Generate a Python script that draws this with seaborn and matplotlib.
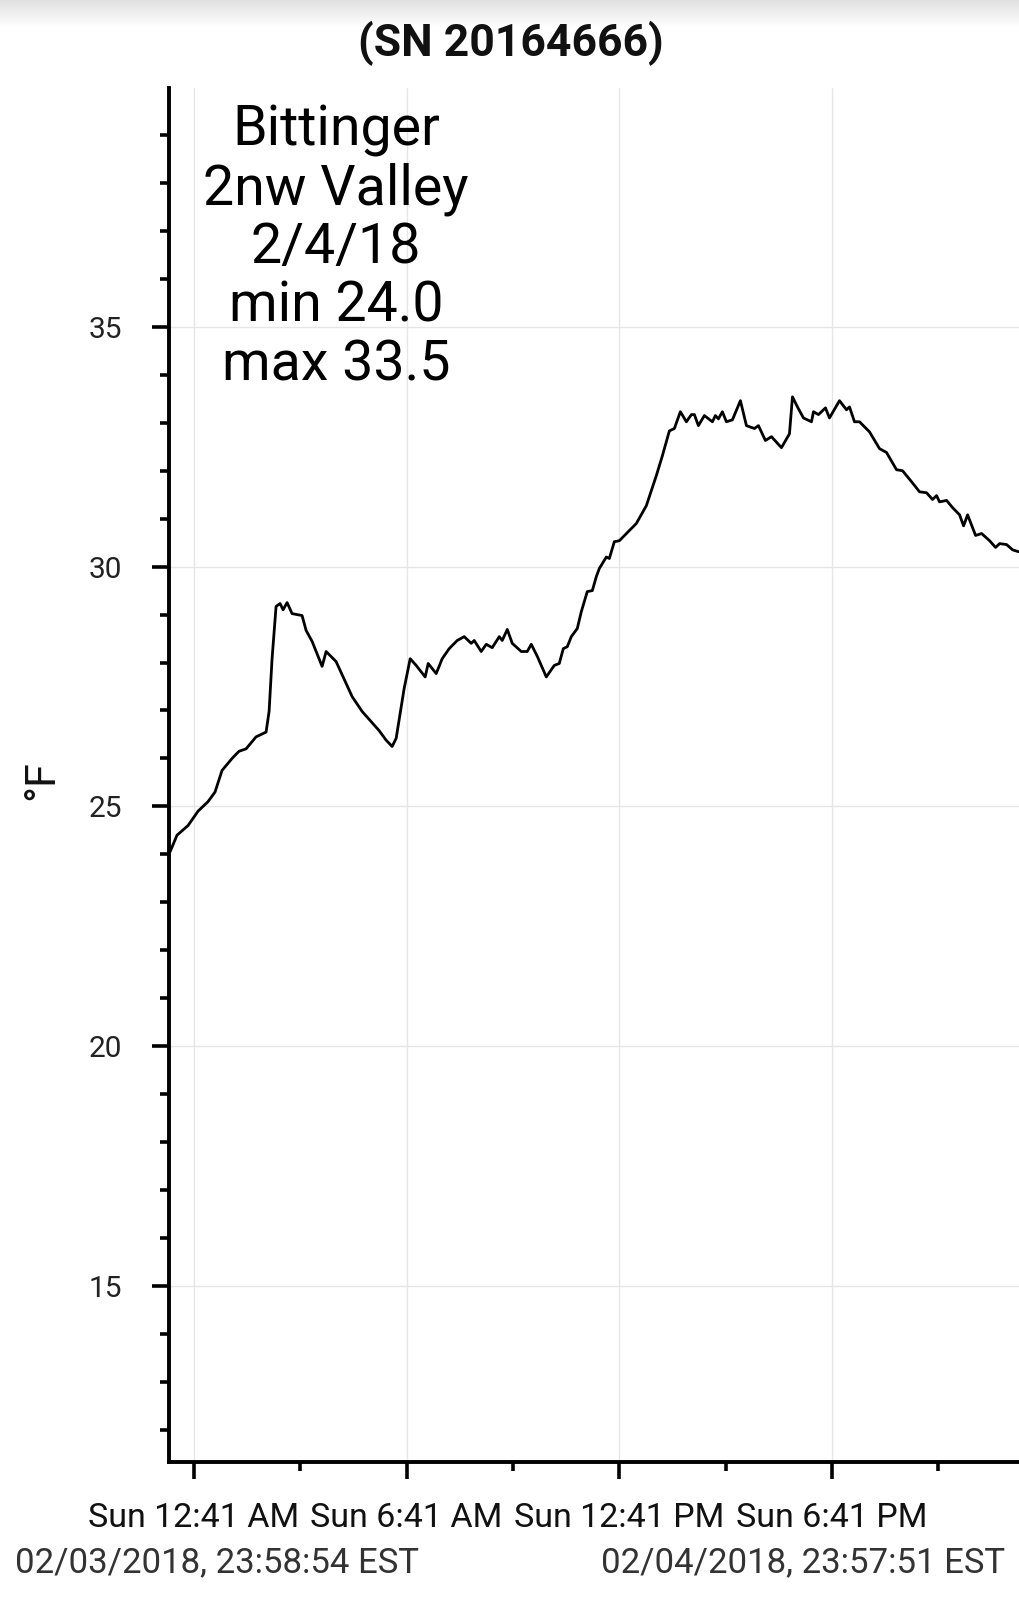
import numpy as np
import pandas as pd
import matplotlib
matplotlib.use("Agg")
import matplotlib.pyplot as plt
import matplotlib.dates as mdates
from matplotlib.ticker import MultipleLocator, FixedLocator, FixedFormatter
import seaborn as sns

# ---------------- data ----------------
start_time = "2018-02-03 23:58:54"
end_time = "2018-02-04 23:57:51"

hours = [0.028, 0.226, 0.536, 0.819, 1.101, 1.299, 1.496, 1.609, 1.779, 1.976,
         2.174, 2.456, 2.739, 2.824, 2.908, 3.021, 3.134, 3.219, 3.332, 3.473,
         3.755, 3.868, 4.038, 4.320, 4.433, 4.715, 5.167, 5.449, 5.929, 6.127,
         6.296, 6.409, 6.635, 6.805, 6.974, 7.228, 7.313, 7.539, 7.708, 7.906,
         8.132, 8.329, 8.527, 8.612, 8.809, 8.951, 9.120, 9.318, 9.402, 9.544,
         9.685, 9.939, 10.108, 10.221, 10.391, 10.645, 10.871, 11.012, 11.125, 11.238,
         11.351, 11.520, 11.633, 11.802, 11.944, 12.056, 12.141, 12.339, 12.424, 12.565,
         12.706, 13.186, 13.468, 13.751, 13.920, 14.118, 14.259, 14.428, 14.598, 14.739,
         14.824, 14.936, 15.106, 15.332, 15.416, 15.501, 15.614, 15.727, 15.896, 16.122,
         16.292, 16.518, 16.631, 16.828, 16.998, 17.280, 17.506, 17.591, 17.732, 17.901,
         18.127, 18.184, 18.325, 18.522, 18.635, 18.918, 19.115, 19.200, 19.341, 19.482,
         19.765, 20.047, 20.245, 20.527, 20.696, 20.951, 21.176, 21.374, 21.543, 21.656,
         21.741, 21.939, 22.108, 22.306, 22.419, 22.532, 22.758, 22.927, 23.153, 23.322,
         23.435, 23.633, 23.802, 23.972]

temps_f = [24.05, 24.40, 24.60, 24.90, 25.10, 25.30, 25.75, 25.85, 26.00, 26.15,
           26.20, 26.45, 26.55, 26.98, 28.08, 29.17, 29.23, 29.10, 29.25, 29.02,
           28.98, 28.67, 28.44, 27.92, 28.23, 28.02, 27.29, 26.98, 26.58, 26.38,
           26.25, 26.42, 27.46, 28.08, 27.94, 27.70, 27.98, 27.77, 28.08, 28.29,
           28.46, 28.54, 28.40, 28.46, 28.23, 28.38, 28.31, 28.54, 28.46, 28.69,
           28.40, 28.23, 28.23, 28.38, 28.13, 27.70, 27.94, 27.98, 28.29, 28.33,
           28.54, 28.71, 29.06, 29.48, 29.50, 29.79, 29.96, 30.20, 30.17, 30.52,
           30.54, 30.90, 31.27, 31.90, 32.31, 32.83, 32.88, 33.23, 33.02, 33.17,
           33.17, 32.94, 33.15, 33.02, 33.15, 33.08, 33.23, 33.02, 33.06, 33.46,
           32.94, 32.88, 32.94, 32.63, 32.71, 32.48, 32.77, 33.54, 33.33, 33.10,
           33.02, 33.23, 33.17, 33.31, 33.10, 33.46, 33.27, 33.33, 33.02, 33.02,
           32.81, 32.46, 32.38, 32.02, 32.00, 31.77, 31.56, 31.54, 31.40, 31.48,
           31.35, 31.38, 31.23, 31.08, 30.85, 31.08, 30.65, 30.69, 30.54, 30.40,
           30.48, 30.46, 30.35, 30.31]

major_tick_times = ["2018-02-04 00:41", "2018-02-04 06:41", "2018-02-04 12:41", "2018-02-04 18:41"]
major_tick_labels = ["Sun 12:41 AM", "Sun 6:41 AM", "Sun 12:41 PM", "Sun 6:41 PM"]
minor_tick_times = ["2018-02-04 03:41", "2018-02-04 09:41", "2018-02-04 15:41", "2018-02-04 21:41"]

title_text = "(SN 20164666)"
note_lines = ["Bittinger", "2nw Valley", "2/4/18", "min 24.0", "max 33.5"]
start_label = "02/03/2018, 23:58:54 EST"
end_label = "02/04/2018, 23:57:51 EST"
y_label = "°F"

# ---------------- build frame ----------------
t0 = pd.Timestamp(start_time)
df = pd.DataFrame({
    "time": [t0 + pd.Timedelta(hours=h) for h in hours],
    "temp": temps_f,
})

sns.set_theme(style="white")
plt.rcParams["font.family"] = ["Roboto", "DejaVu Sans"]

W, H = 1019, 1600
fig = plt.figure(figsize=(W / 100, H / 100), dpi=100)
fig.patch.set_facecolor("white")

# top gray shadow strip
gax = fig.add_axes([0, 1 - 28 / H, 1, 28 / H])
grad = np.linspace(0.88, 1.0, 64).reshape(-1, 1)
gax.imshow(grad, aspect="auto", cmap="gray", vmin=0, vmax=1, extent=[0, 1, 0, 1], origin="upper")
gax.set_axis_off()

left_px, right_px, top_px, bot_px = 169, 1019, 88, 1462
ax = fig.add_axes([left_px / W, 1 - bot_px / H, (right_px - left_px) / W, (bot_px - top_px) / H])

sns.lineplot(data=df, x="time", y="temp", ax=ax, color="black", linewidth=2.0)

ax.set_xlim(mdates.date2num(pd.Timestamp(start_time)), mdates.date2num(pd.Timestamp(end_time)))
ax.set_ylim(11.33, 39.98)

ax.xaxis.set_major_locator(FixedLocator(mdates.date2num(pd.to_datetime(major_tick_times))))
ax.xaxis.set_major_formatter(FixedFormatter(major_tick_labels))
ax.xaxis.set_minor_locator(FixedLocator(mdates.date2num(pd.to_datetime(minor_tick_times))))
ax.yaxis.set_major_locator(MultipleLocator(5))
ax.yaxis.set_minor_locator(MultipleLocator(1))

for s in ["top", "right"]:
    ax.spines[s].set_visible(False)
for s in ["left", "bottom"]:
    ax.spines[s].set_color("black")
    ax.spines[s].set_linewidth(2.8)

ax.grid(True, which="major", color="#e6e6e6", linewidth=1.0)
ax.set_axisbelow(True)

ax.tick_params(axis="both", which="both", bottom=True, left=True, top=False, right=False)
ax.tick_params(axis="both", which="major", direction="out", length=12, width=2.6, color="black")
ax.tick_params(axis="both", which="minor", direction="out", length=6.5, width=2.6, color="black")
ax.tick_params(axis="y", which="major", pad=22, labelsize=21.5, labelcolor="#222222")
ax.tick_params(axis="x", which="major", pad=17, labelsize=24.5, labelcolor="#111111")
ax.set_xlabel("")
ax.set_ylabel("")

fig.text(42 / W, 1 - 780 / H, y_label, rotation=90, ha="center", va="center",
         fontsize=31, color="#111111")

fig.text(511 / W, 1 - 43 / H, title_text, ha="center", va="center",
         fontsize=32, fontweight="bold", color="#111111")

fig.text(336 / W, 1 - 104 / H, "\n".join(note_lines), ha="center", va="top",
         fontsize=40, color="black", linespacing=1.13)

fig.text(15 / W, 1 - 1563 / H, start_label, ha="left", va="center",
         fontsize=25, color="#333333")
fig.text(1005 / W, 1 - 1563 / H, end_label, ha="right", va="center",
         fontsize=25, color="#333333")

fig.savefig("out.png", dpi=100, facecolor="white")
